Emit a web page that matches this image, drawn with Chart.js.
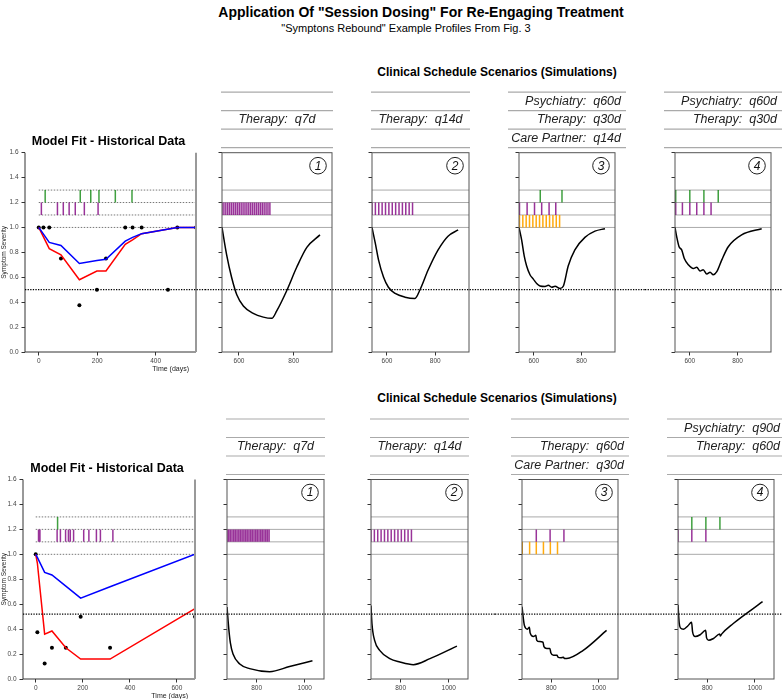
<!DOCTYPE html>
<html>
<head>
<meta charset="utf-8">
<title>Session Dosing</title>
<script src="https://cdn.jsdelivr.net/npm/chart.js@4.4.1/dist/chart.umd.min.js"></script>
<style>
  html, body { margin: 0; padding: 0; background: #fff; }
  body { position: relative; width: 782px; height: 699px; overflow: hidden; font-family: "Liberation Sans", Arial, sans-serif; }
  .label { position: absolute; text-align: center; color: #000; white-space: nowrap; }
  canvas { position: absolute; }
</style>
</head>
<body>
<div class="label" style="left:121px;width:600px;top:4px;font-size:14px;font-weight:bold;line-height:17px;">Application Of "Session Dosing" For Re-Engaging Treatment</div>
<div class="label" style="left:206px;width:400px;top:22px;font-size:11px;line-height:13px;">"Symptons Rebound" Example Profiles From Fig. 3</div>
<div class="label" style="left:347px;width:300px;top:65px;font-size:12px;font-weight:bold;line-height:14px;">Clinical Schedule Scenarios (Simulations)</div>
<div class="label" style="left:347px;width:300px;top:391px;font-size:12px;font-weight:bold;line-height:14px;">Clinical Schedule Scenarios (Simulations)</div>
<script>
// ---- upper figure: historical fit ----
const histDaysA = [0, 36, 76, 139, 199, 230, 296, 321, 352, 474, 538];
const fitBlueA = [1.0, 0.88, 0.855, 0.71, 0.735, 0.745, 0.89, 0.92, 0.95, 1.0, 1.0];
const fitRedA = [1.0, 0.83, 0.78, 0.58, 0.65, 0.65, 0.865, 0.9, 0.95, 1.0, 1.0];
const obsDaysA = [0, 16, 36, 76, 139, 199, 230, 296, 321, 352, 442, 474, 538];
const obsValsA = [1.0, 1.0, 1.0, 0.75, 0.375, 0.5, 0.75, 1.0, 1.0, 1.0, 0.5, 1.0, 1.0];
const psychDaysA = [22, 142, 178, 206, 262, 319];
const therapyDaysA = [9, 64, 84, 104, 125, 156, 203, 538];

// ---- upper figure: simulations ----
const simA1Days = [538, 555, 573, 592, 616, 652, 689, 720, 738, 774, 811, 848, 896];
const simA1Vals = [1.0, 0.78, 0.6, 0.46, 0.37, 0.31, 0.28, 0.27, 0.33, 0.49, 0.68, 0.84, 0.94];
const simA1Therapy = [538, 545, 552, 559, 566, 573, 580, 587, 594, 601, 608, 615, 622, 629, 636, 643, 650, 657, 664, 671, 678, 685, 692, 699, 706, 713];

const simA2Days = [538, 552, 565, 586, 606, 634, 675, 716, 737, 771, 812, 853, 895];
const simA2Vals = [1.0, 0.87, 0.74, 0.6, 0.52, 0.47, 0.44, 0.43, 0.5, 0.66, 0.82, 0.93, 0.98];
const simA2Therapy = [538, 552, 566, 580, 594, 608, 622, 636, 650, 664, 678, 692, 706];

const simA3Days = [538, 549, 560, 570, 584, 598, 612, 626, 647, 661, 675, 689, 710, 724, 744, 772, 814, 856, 898];
const simA3Vals = [1.0, 0.9, 0.77, 0.69, 0.62, 0.585, 0.55, 0.53, 0.526, 0.535, 0.52, 0.528, 0.51, 0.53, 0.69, 0.82, 0.92, 0.97, 0.99];
const simA3Psych = [627, 718];
const simA3Therapy = [540, 572, 603, 633, 664, 692];
const simA3Care = [540, 554, 568, 582, 596, 610, 624, 638, 652, 666, 680, 694, 708];

const simA4Days = [538, 545, 555, 566, 577, 594, 615, 629, 643, 656, 671, 685, 698, 713, 734, 761, 817, 901];
const simA4Vals = [1.0, 0.926, 0.845, 0.82, 0.75, 0.70, 0.67, 0.68, 0.65, 0.66, 0.626, 0.64, 0.62, 0.645, 0.74, 0.845, 0.94, 0.99];
const simA4Psych = [541, 600, 659, 719];
const simA4Therapy = [541, 569, 600, 629, 659, 689];

// ---- lower figure: historical fit ----
const histDaysB = [0, 7, 38, 69, 128, 191, 316, 677];
const fitBlueB = [1.0, 0.975, 0.855, 0.834, 0.745, 0.649, 0.74, 1.0];
const fitRedB = [1.0, 0.93, 0.36, 0.385, 0.25, 0.16, 0.16, 0.565];
const obsDaysB = [0, 7, 38, 69, 128, 191, 316, 677];
const obsValsB = [1.0, 0.375, 0.125, 0.25, 0.25, 0.5, 0.25, 0.5];
const psychDaysB = [93];
const therapyDaysB = [12, 18, 91, 105, 127, 139, 147, 161, 204, 226, 258, 275, 328, 677];

// ---- lower figure: simulations ----
const simB1Days = [677, 685, 691, 702, 730, 771, 854, 937, 1032];
const simB1Vals = [0.577, 0.39, 0.29, 0.2, 0.12, 0.083, 0.059, 0.1, 0.147];
const simB1Therapy = [677, 684, 691, 698, 705, 712, 719, 726, 733, 740, 747, 754, 761, 768, 775, 782, 789, 796, 803, 810, 817, 824, 831, 838, 845, 852];

const simB2Days = [677, 681, 692, 713, 755, 797, 853, 922, 1034];
const simB2Vals = [0.59, 0.443, 0.31, 0.23, 0.163, 0.136, 0.115, 0.163, 0.264];
const simB2Therapy = [677, 691, 705, 719, 733, 747, 761, 775, 789, 803, 817, 831, 845];

const simB3Days = [677, 687, 700, 708, 711, 725, 735, 739, 750, 765, 769, 781, 794, 798, 809, 824, 828, 840, 851, 855, 865, 934, 1032];
const simB3Vals = [0.58, 0.43, 0.40, 0.415, 0.37, 0.34, 0.35, 0.31, 0.30, 0.295, 0.26, 0.245, 0.245, 0.21, 0.19, 0.19, 0.175, 0.17, 0.175, 0.165, 0.165, 0.23, 0.39];
const simB3Therapy = [737, 795, 853];
const simB3Care = [678, 709, 737, 767, 796, 826];

const simB4Days = [677, 682, 687, 700, 718, 734, 738, 749, 770, 793, 797, 806, 826, 852, 855, 860, 909, 1032];
const simB4Vals = [0.595, 0.45, 0.41, 0.40, 0.425, 0.455, 0.38, 0.34, 0.355, 0.39, 0.33, 0.31, 0.325, 0.36, 0.345, 0.36, 0.445, 0.62];
const simB4Psych = [735, 794, 853];
const simB4Therapy = [677, 735, 794];

// ticks, thresholds, schedule tables
const xTicksFitA = [0, 200, 400];
const xTicksFitB = [0, 200, 400, 600];
const xTicksSimA = [600, 800];
const xTicksSimB = [800, 1000];
const thresholdA = 0.5;
const thresholdB = 0.52;
const tableA = [
    ['', 'Therapy:  q7d', ''],
    ['', 'Therapy:  q14d', ''],
    ['Psychiatry:  q60d', 'Therapy:  q30d', 'Care Partner:  q14d'],
    ['Psychiatry:  q60d', 'Therapy:  q30d', '']
];
const tableB = [
    ['', 'Therapy:  q7d', ''],
    ['', 'Therapy:  q14d', ''],
    ['', 'Therapy:  q60d', 'Care Partner:  q30d'],
    ['Psychiatry:  q90d', 'Therapy:  q60d', '']
];

const X_AXIS_H = 22;
const GUIDES = [1.0, 1.1, 1.2, 1.3];
const ROW_SPAN = { psych: [1.2, 1.3], therapy: [1.1, 1.2], care: [1.0, 1.1] };
const EVENT_COLORS = { psych: 'rgba(0,128,0,0.75)', therapy: 'rgba(128,0,128,0.8)', care: 'rgba(255,165,0,0.95)' };

Chart.defaults.font.family = '"Liberation Sans", Arial, sans-serif';

function pts(xs, ys) {
    return xs.map((x, i) => ({ x: x, y: ys[i] }));
}

function eventSet(days, kind) {
    const [lo, hi] = ROW_SPAN[kind];
    return {
        data: days.flatMap(d => [{ x: d, y: lo }, { x: d, y: hi }, { x: d, y: null }]),
        borderColor: EVENT_COLORS[kind],
        borderWidth: 1.5,
        pointRadius: 0,
        spanGaps: false,
        tension: 0
    };
}

// draws guides, frame, threshold, badge, table and title around the plot
function makeDecor(cfg) {
    return {
        id: 'decor',
        beforeDatasetsDraw(chart) {
            const { ctx, chartArea: a, scales: { x, y } } = chart;
            ctx.save();
            ctx.lineWidth = 1;
            ctx.strokeStyle = cfg.fit ? '#777' : '#aaa';
            ctx.setLineDash(cfg.fit ? [1.5, 1.5] : []);
            GUIDES.forEach(v => {
                const py = y.getPixelForValue(v);
                ctx.beginPath();
                ctx.moveTo(cfg.fit ? x.getPixelForValue(0) : a.left, py);
                ctx.lineTo(a.right, py);
                ctx.stroke();
            });
            ctx.restore();
        },
        afterDatasetsDraw(chart) {
            const { ctx, chartArea: a, scales: { y } } = chart;
            ctx.save();
            if (cfg.fit) {
                ctx.strokeStyle = '#333';
                ctx.lineWidth = 1;
                ctx.beginPath();
                ctx.moveTo(a.left, a.top);
                ctx.lineTo(a.left, a.bottom);
                ctx.lineTo(a.right, a.bottom);
                ctx.stroke();
                ctx.strokeStyle = '#999';
                ctx.lineWidth = 2;
                ctx.beginPath();
                ctx.moveTo(a.right, a.top);
                ctx.lineTo(a.right, a.bottom);
                ctx.stroke();
            } else {
                ctx.strokeStyle = '#555';
                ctx.lineWidth = 1;
                ctx.strokeRect(a.left, a.top, a.right - a.left, a.bottom - a.top);
                // circled scenario number
                ctx.beginPath();
                ctx.strokeStyle = '#222';
                ctx.arc(a.right - 14, a.top + 13, 8.3, 0, Math.PI * 2);
                ctx.stroke();
                ctx.fillStyle = '#111';
                ctx.font = 'italic 12px "Liberation Sans", Arial, sans-serif';
                ctx.textAlign = 'center';
                ctx.textBaseline = 'middle';
                ctx.fillText(String(cfg.badge), a.right - 14, a.top + 13.5);
            }
            // threshold line runs across the whole row
            const py = y.getPixelForValue(cfg.threshold);
            ctx.setLineDash([1.3, 1.3]);
            ctx.strokeStyle = '#000';
            ctx.lineWidth = 1.3;
            ctx.beginPath();
            ctx.moveTo(cfg.fit ? a.left : 0, py);
            ctx.lineTo(chart.width, py);
            ctx.stroke();
            ctx.restore();
        },
        afterDraw(chart) {
            const { ctx, chartArea: a } = chart;
            ctx.save();
            if (cfg.fit) {
                ctx.fillStyle = '#000';
                ctx.font = 'bold 12.5px "Liberation Sans", Arial, sans-serif';
                ctx.textAlign = 'center';
                ctx.textBaseline = 'middle';
                ctx.fillText('Model Fit - Historical Data', (a.left + a.right) / 2 - 2, a.top - 11);
            } else {
                const rowH = 18.5;
                const base = a.top - 5;
                const tl = a.left - cfg.tableExt;
                const tr = Math.min(a.right + cfg.tableExt, chart.width);
                ctx.strokeStyle = '#aaa';
                ctx.lineWidth = 1.2;
                for (let k = 0; k < 4; k++) {
                    ctx.beginPath();
                    ctx.moveTo(tl, base - k * rowH);
                    ctx.lineTo(tr, base - k * rowH);
                    ctx.stroke();
                }
                ctx.fillStyle = '#222';
                ctx.font = 'italic 12.5px "Liberation Sans", Arial, sans-serif';
                ctx.textBaseline = 'middle';
                cfg.table.forEach((txt, i) => {
                    if (!txt) return;
                    const cy = base - (2.5 - i) * rowH;
                    if (cfg.align === 'right') {
                        ctx.textAlign = 'right';
                        ctx.fillText(txt, a.right + cfg.tableExt - 5, cy);
                    } else {
                        ctx.textAlign = 'center';
                        ctx.fillText(txt, (tl + tr) / 2, cy);
                    }
                });
            }
            ctx.restore();
        }
    };
}

function buildPanel(row, panel) {
    const canvas = document.createElement('canvas');
    canvas.width = panel.canvas[1] - panel.canvas[0];
    canvas.height = row.height;
    canvas.style.left = panel.canvas[0] + 'px';
    canvas.style.top = row.top + 'px';
    document.body.appendChild(canvas);

    const fit = panel.fit;
    const yWidth = fit ? panel.area[0] - panel.canvas[0] : 0;
    const padding = {
        left: fit ? 0 : panel.area[0] - panel.canvas[0],
        right: panel.canvas[1] - panel.area[1],
        top: row.plotTop - row.top,
        bottom: row.height - (row.plotBottom - row.top) - X_AXIS_H
    };

    const tickGrid = { display: true, drawOnChartArea: false, drawTicks: true, tickLength: 3.5, tickColor: '#333' };

    return new Chart(canvas, {
        type: 'line',
        data: { datasets: panel.datasets },
        options: {
            responsive: false,
            animation: false,
            events: [],
            layout: { padding: padding },
            plugins: { legend: { display: false }, tooltip: { enabled: false }, title: { display: false } },
            scales: {
                x: {
                    type: 'linear',
                    min: panel.xRange[0],
                    max: panel.xRange[1],
                    afterBuildTicks: s => { s.ticks = panel.xTicks.map(v => ({ value: v })); },
                    afterFit: s => { s.height = X_AXIS_H; },
                    grid: tickGrid,
                    border: { display: false },
                    ticks: { autoSkip: false, maxRotation: 0, padding: 2, color: '#444', font: { size: 6.5 }, callback: v => String(v) },
                    title: {
                        display: fit,
                        text: 'Time (days)\u2003',
                        align: 'end',
                        color: '#222',
                        font: { size: 7 },
                        padding: { top: 0, bottom: 1 }
                    }
                },
                y: {
                    type: 'linear',
                    min: 0,
                    max: 1.6,
                    display: fit,
                    afterFit: s => { s.width = yWidth; },
                    grid: tickGrid,
                    border: { display: false },
                    ticks: { stepSize: 0.2, padding: 3, color: '#444', font: { size: 6.5 }, callback: v => Number(v).toFixed(1) },
                    title: { display: fit, text: 'Symptom Severity', color: '#222', font: { size: 6.5 }, padding: 0 }
                }
            }
        },
        plugins: [makeDecor(panel.decor)]
    });
}

function fitSets(days, blue, red, obsDays, obsVals, psych, therapy) {
    return [
        eventSet(psych, 'psych'),
        eventSet(therapy, 'therapy'),
        { data: pts(days, blue), borderColor: '#0000ff', borderWidth: 1.5, pointRadius: 0, tension: 0 },
        { data: pts(days, red), borderColor: '#ff0000', borderWidth: 1.5, pointRadius: 0, tension: 0 },
        { data: pts(obsDays, obsVals), showLine: false, pointRadius: 2, pointBorderWidth: 0, pointBackgroundColor: '#000' }
    ];
}

function simSets(days, vals, events) {
    const sets = events.map(e => eventSet(e[1], e[0]));
    sets.push({ data: pts(days, vals), borderColor: '#000', borderWidth: 1.5, pointRadius: 0, cubicInterpolationMode: 'monotone' });
    return sets;
}

const rowA = { top: 84, height: 300, plotTop: 152.7, plotBottom: 352 };
const rowB = { top: 410, height: 291, plotTop: 479.5, plotBottom: 679 };

const panelsA = [
    { fit: true, canvas: [0, 205], area: [25, 196], xRange: [-47, 538], xTicks: xTicksFitA,
      datasets: fitSets(histDaysA, fitBlueA, fitRedA, obsDaysA, obsValsA, psychDaysA, therapyDaysA),
      decor: { fit: true, threshold: thresholdA } },
    { canvas: [205, 350], area: [222, 332], xRange: [538, 940], xTicks: xTicksSimA,
      datasets: simSets(simA1Days, simA1Vals, [['therapy', simA1Therapy]]),
      decor: { threshold: thresholdA, badge: 1, table: tableA[0], tableExt: 1, align: 'center' } },
    { canvas: [350, 490], area: [372, 469], xRange: [538, 940], xTicks: xTicksSimA,
      datasets: simSets(simA2Days, simA2Vals, [['therapy', simA2Therapy]]),
      decor: { threshold: thresholdA, badge: 2, table: tableA[1], tableExt: 1, align: 'center' } },
    { canvas: [490, 645], area: [519, 615], xRange: [538, 940], xTicks: xTicksSimA,
      datasets: simSets(simA3Days, simA3Vals, [['psych', simA3Psych], ['therapy', simA3Therapy], ['care', simA3Care]]),
      decor: { threshold: thresholdA, badge: 3, table: tableA[2], tableExt: 11, align: 'right' } },
    { canvas: [645, 782], area: [675, 771], xRange: [538, 940], xTicks: xTicksSimA,
      datasets: simSets(simA4Days, simA4Vals, [['psych', simA4Psych], ['therapy', simA4Therapy]]),
      decor: { threshold: thresholdA, badge: 4, table: tableA[3], tableExt: 11, align: 'right' } }
];

const panelsB = [
    { fit: true, canvas: [0, 205], area: [23, 195], xRange: [-54, 677], xTicks: xTicksFitB,
      datasets: fitSets(histDaysB, fitBlueB, fitRedB, obsDaysB, obsValsB, psychDaysB, therapyDaysB),
      decor: { fit: true, threshold: thresholdB } },
    { canvas: [205, 348], area: [227, 324], xRange: [677, 1080], xTicks: xTicksSimB,
      datasets: simSets(simB1Days, simB1Vals, [['therapy', simB1Therapy]]),
      decor: { threshold: thresholdB, badge: 1, table: tableB[0], tableExt: 1, align: 'center' } },
    { canvas: [348, 495], area: [371, 468], xRange: [677, 1080], xTicks: xTicksSimB,
      datasets: simSets(simB2Days, simB2Vals, [['therapy', simB2Therapy]]),
      decor: { threshold: thresholdB, badge: 2, table: tableB[1], tableExt: 1, align: 'center' } },
    { canvas: [495, 650], area: [522, 618], xRange: [677, 1080], xTicks: xTicksSimB,
      datasets: simSets(simB3Days, simB3Vals, [['therapy', simB3Therapy], ['care', simB3Care]]),
      decor: { threshold: thresholdB, badge: 3, table: tableB[2], tableExt: 11, align: 'right' } },
    { canvas: [650, 782], area: [678, 774], xRange: [677, 1080], xTicks: xTicksSimB,
      datasets: simSets(simB4Days, simB4Vals, [['psych', simB4Psych], ['therapy', simB4Therapy]]),
      decor: { threshold: thresholdB, badge: 4, table: tableB[3], tableExt: 11, align: 'right' } }
];

panelsA.forEach(p => buildPanel(rowA, p));
panelsB.forEach(p => buildPanel(rowB, p));
</script>
</body>
</html>
